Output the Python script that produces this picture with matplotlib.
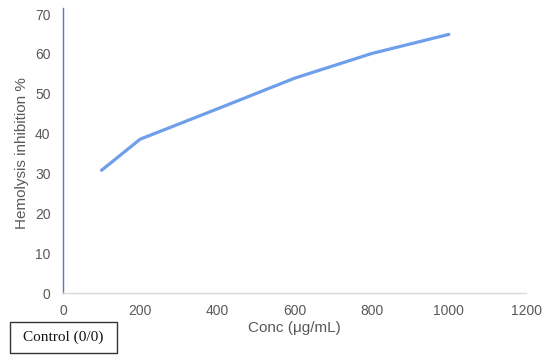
import matplotlib.pyplot as plt
from matplotlib.patches import Rectangle

# data
conc = [100, 200, 400, 600, 800, 1000]
inhibition = [30.8, 38.6, 46.2, 53.9, 60.1, 64.9]
x_ticks = [0, 200, 400, 600, 800, 1000, 1200]
y_ticks = [0, 10, 20, 30, 40, 50, 60, 70]

plt.rcParams["font.family"] = ["Liberation Sans", "DejaVu Sans"]

fig = plt.figure(figsize=(5.5, 3.6), dpi=100)
ax = fig.add_axes([0.1145, 0.186, 0.842, 0.775])

ax.plot(conc, inhibition, color="#6f9eea", linewidth=2.3, solid_capstyle="round", zorder=3)

# vertical blue line on the y axis (control series)
ax.plot([0, 0], [0, 71.5], color="#4f81bd", linewidth=1.0, clip_on=False, zorder=2)

ax.set_xlim(0, 1200)
ax.set_ylim(0, 70)
ax.set_xticks(x_ticks)
ax.set_yticks(y_ticks)

for side in ["top", "right", "left"]:
    ax.spines[side].set_visible(False)
ax.spines["bottom"].set_color("#d9d9d9")
ax.spines["bottom"].set_linewidth(1.0)

ax.tick_params(length=0, labelsize=10, labelcolor="#595959")
ax.tick_params(axis="x", pad=8)
ax.tick_params(axis="y", pad=9)

ax.set_xlabel("Conc (\u03bcg/mL)", fontsize=11, color="#595959", labelpad=2)
ax.set_ylabel("Hemolysis inhibition %", fontsize=11, color="#595959", labelpad=4)

# legend-like box at the bottom left
fig.add_artist(Rectangle((10 / 550, 7 / 360), 107 / 550, 31 / 360, transform=fig.transFigure,
                         facecolor="white", edgecolor="#333333", linewidth=1.0))
fig.text(63.5 / 550, 22.5 / 360, "Control (0/0)", fontsize=11, family="Liberation Serif",
         ha="center", va="center", color="#111111")

fig.savefig("out.png", dpi=100)
